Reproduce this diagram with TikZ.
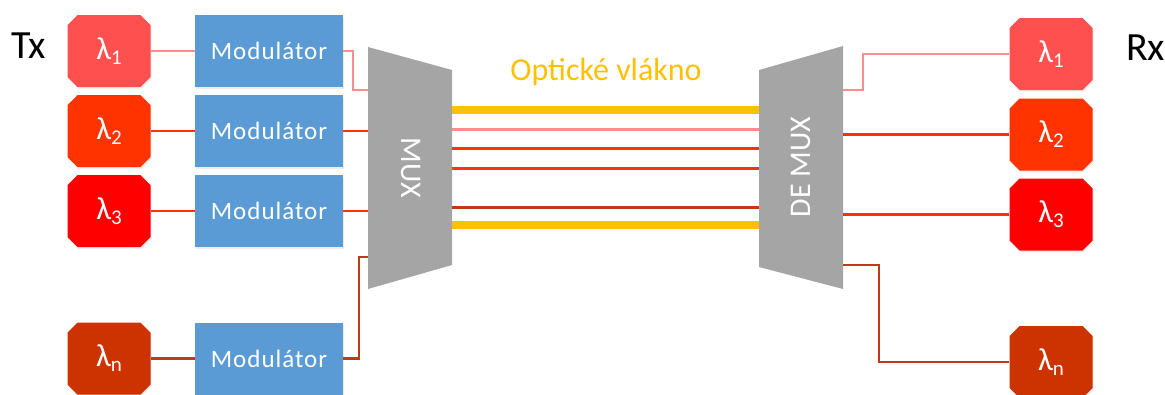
\documentclass[tikz,border=0pt]{standalone}
\usepackage{fontspec}
\setmainfont{Carlito}
\usetikzlibrary{shapes.misc,shadows}
\definecolor{cA}{HTML}{FF5050}
\definecolor{cB}{HTML}{FF3300}
\definecolor{cC}{HTML}{FF0000}
\definecolor{cN}{HTML}{CC3300}
\definecolor{modblue}{HTML}{5B9BD5}
\definecolor{muxgray}{HTML}{A5A5A5}
\definecolor{fiber}{HTML}{FFC000}
\definecolor{lpink}{HTML}{FF8C8C}
\definecolor{lred}{HTML}{FF3300}
\definecolor{ldark}{HTML}{C0391B}
\newcommand{\lsub}[1]{λ\raisebox{-5pt}{\fontsize{21}{21}\selectfont #1}}
\begin{document}
\begin{tikzpicture}[x=1pt,y=-1pt,
  lam/.style={chamfered rectangle, chamfered rectangle xsep=5pt, chamfered rectangle ysep=5pt,
    minimum width=83pt, minimum height=72pt, inner sep=0pt, text=white,
    font=\fontsize{32}{32}\selectfont,
    drop shadow={opacity=0.15, shadow xshift=1pt, shadow yshift=-1.5pt}},
  mod/.style={rectangle, fill=modblue, minimum width=148pt, minimum height=72pt,
    inner sep=0pt, text=white, font=\fontsize{25}{25}\selectfont\addfontfeature{LetterSpace=4},
    drop shadow={opacity=0.15, shadow xshift=1pt, shadow yshift=-1.5pt}},
  wire/.style={line width=2.5pt},
  fib/.style={line width=3pt},
  fibthick/.style={line width=8.5pt, fiber},
  side/.style={font=\fontsize{40}{40}\selectfont, text=black, inner sep=0pt},
  muxlabel/.style={text=white, font=\fontsize{30}{30}\selectfont, inner sep=0pt}
]
\useasboundingbox (0,0) rectangle (1165,394);

% labels
\node[side, anchor=west] (tx) at (11,46) {Tx};
\node[side, anchor=west] (rx) at (1126,48) {Rx};

% transmitter lambda boxes
\node[lam, fill=cA] (L1) at (109,51) {\lsub{1}};
\node[lam, fill=cB] (L2) at (109,131) {\lsub{2}};
\node[lam, fill=cC] (L3) at (109,211) {\lsub{3}};
\node[lam, fill=cN] (L4) at (109,358.5) {\lsub{n}};

% modulators
\node[mod] (M1) at (269,51) {Modulátor};
\node[mod] (M2) at (269,131) {Modulátor};
\node[mod] (M3) at (269,211) {Modulátor};
\node[mod] (M4) at (269,358.5) {Modulátor};

% receiver lambda boxes
\node[lam, fill=cA] (R1) at (1051,54) {\lsub{1}};
\node[lam, fill=cB] (R2) at (1051,134.5) {\lsub{2}};
\node[lam, fill=cC] (R3) at (1051,214.5) {\lsub{3}};
\node[lam, fill=cN] (R4) at (1051,362) {\lsub{n}};

% MUX and DEMUX
\fill[muxgray] (368,47) -- (452,70) -- (452,265) -- (368,289) -- cycle;
\node[muxlabel, rotate=-90] (mux) at (411,168) {MUX};
\fill[muxgray] (759,70) -- (843,46) -- (843,289) -- (759,267) -- cycle;
\node[muxlabel, rotate=90] (demux) at (801,167) {DE MUX};

% ports
\coordinate (mi1) at (368,90);
\coordinate (mi2) at (368,131);
\coordinate (mi3) at (368,211);
\coordinate (mi4) at (368,257);
\coordinate (do1) at (843,90);
\coordinate (do2) at (843,134.5);
\coordinate (do3) at (843,214.5);
\coordinate (do4) at (843,265);
\foreach \i/\y in {1/110,2/129,3/148,4/168,5/207,6/225}{
  \coordinate (mo\i) at (452,\y);
  \coordinate (di\i) at (759,\y);
}

% fiber
\node[text=fiber, font=\fontsize{32}{32}\selectfont, inner sep=0pt] (fibtext) at (606,72) {Optické vlákno};
\draw[fibthick] (mo1) -- (di1);
\draw[fib, lpink] (mo2) -- (di2);
\draw[fib, lred] (mo3) -- (di3);
\draw[fib, lred] (mo4) -- (di4);
\draw[fib, ldark] (mo5) -- (di5);
\draw[fibthick] (mo6) -- (di6);

% transmitter wires
\draw[wire, lpink] (L1.east) -- (M1.west);
\draw[wire, lred] (L2.east) -- (M2.west);
\draw[wire, lred] (L3.east) -- (M3.west);
\draw[wire, ldark] (L4.east) -- (M4.west);
\draw[wire, lpink] (M1.east) -- ++(10,0) |- (mi1);
\draw[wire, lred] (M2.east) -- (mi2);
\draw[wire, lred] (M3.east) -- (mi3);
\draw[wire, ldark] (M4.east) -- ++(16,0) |- (mi4);

% receiver wires
\draw[wire, lpink] (do1) -- ++(20,0) |- (R1.west);
\draw[wire, lred] (do2) -- (R2.west);
\draw[wire, lred] (do3) -- (R3.west);
\draw[wire, ldark] (do4) -- ++(36,0) |- (R4.west);
\end{tikzpicture}
\end{document}
